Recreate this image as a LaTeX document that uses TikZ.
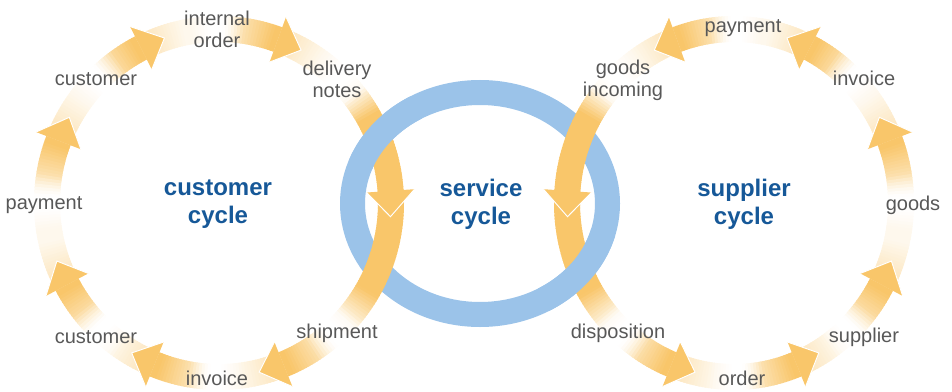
\documentclass[tikz,border=0pt]{standalone}
\usepackage{fontspec}
\setmainfont{Liberation Sans}
\definecolor{yel}{RGB}{249,198,106}
\definecolor{ringblue}{RGB}{155,195,233}
\definecolor{txtgrey}{RGB}{88,88,88}
\definecolor{txtblue}{RGB}{22,88,152}
\pgfmathdeclarefunction{adist}{2}{\pgfmathparse{abs(mod(#1-#2+540,360)-180)}}
\pgfmathdeclarefunction{clampone}{1}{\pgfmathparse{max(0,min(1,#1))}}
% #1 cx, #2 cy, #3 rx, #4 ry, #5 mirror sign
\newcommand\drawband[5]{%
  \foreach \a in {-180,-179,...,179}{%
    \pgfmathsetmacro\m{\a+0.7}%
    \pgfmathsetmacro\d{min(adist(\m,180),adist(\m,135),adist(\m,91),adist(\m,46),adist(\m,-48),adist(\m,-91),adist(\m,-133))}%
    \pgfmathsetmacro\ah{min(mod(\m-159+720,360),mod(\m-117+720,360),mod(\m-70+720,360),mod(\m-4+720,360),mod(\m+68+720,360),mod(\m+112+720,360),mod(\m+152+720,360))}%
    \pgfmathsetmacro\bh{min(mod(159-\m+720,360),mod(117-\m+720,360),mod(70-\m+720,360),mod(4-\m+720,360),mod(-68-\m+720,360),mod(-112-\m+720,360),mod(-152-\m+720,360))}%
    \pgfmathsetmacro\c{min(clampone((\m+44)/14),clampone((40-\m)/10))}%
    \pgfmathsetmacro\p{100*max(clampone(1-(\ah-2)/22),0.5*clampone(1-\bh/20),0.12,\c)*clampone((\d-2)/7)}%
    \pgfmathsetmacro\b{\a+1.4}%
    \fill[yel!\p!white] ({#1+(#5)*(#3-13)*cos(\a)},{#2-(#4-13)*sin(\a)}) -- ({#1+(#5)*(#3+13)*cos(\a)},{#2-(#4+13)*sin(\a)}) -- ({#1+(#5)*(#3+13)*cos(\b)},{#2-(#4+13)*sin(\b)}) -- ({#1+(#5)*(#3-13)*cos(\b)},{#2-(#4-13)*sin(\b)}) -- cycle;
  }%
  \foreach \h in {159,117,70,4,-68,-112,-152}{%
    \pgfmathsetmacro\t{\h-8.5}%
    \filldraw[headstyle] ({#1+(#5)*(#3-24)*cos(\h)},{#2-(#4-24)*sin(\h)}) -- ({#1+(#5)*(#3)*cos(\t)},{#2-(#4)*sin(\t)}) -- ({#1+(#5)*(#3+24)*cos(\h)},{#2-(#4+24)*sin(\h)});
  }%
}
\begin{document}
\begin{tikzpicture}[x=0.75pt,y=-0.75pt,
  headstyle/.style={fill=yel,draw=white,line width=0.7pt,line join=miter},
  ringstyle/.style={draw=ringblue,line width=18.75pt},
  lbl/.style={text=txtgrey,align=center,inner sep=0pt,font=\fontsize{15}{16.5}\selectfont},
  title/.style={text=txtblue,align=center,inner sep=0pt,font=\fontsize{18}{21}\selectfont\bfseries}]
\useasboundingbox (0,0) rectangle (952,392);
% service ring
\draw[ringstyle] (480,203.5) ellipse [x radius=95.625pt, y radius=83.25pt];
% customer cycle (left) and supplier cycle (right)
\drawband{219}{203}{172}{174}{1}
\drawband{734}{203}{167}{174}{-1}
% blue over yellow at two crossings
\draw[ringstyle] plot[domain=120:160, samples=40] ({480+127.5*cos(\x)},{203.5-111*sin(\x)});
\draw[ringstyle] plot[domain=-60:-15, samples=40] ({480+127.5*cos(\x)},{203.5-111*sin(\x)});
% titles
\node[title] (cust) at (218,204) {customer\\cycle};
\node[title] (serv) at (481,204) {service\\cycle};
\node[title] (supp) at (744,204) {supplier\\cycle};
% left labels
\node[lbl] (l1) at (217,29) {internal\\order};
\node[lbl] (l2) at (96,79) {customer};
\node[lbl] (l3) at (337,79) {delivery\\notes};
\node[lbl] (l4) at (44,205) {payment};
\node[lbl] (l5) at (96,337) {customer};
\node[lbl] (l6) at (337,333) {shipment};
\node[lbl] (l7) at (217,378) {invoice};
% right labels
\node[lbl] (r1) at (623,80) {goods\\incoming};
\node[lbl] (r2) at (743,28) {payment};
\node[lbl] (r3) at (864,78) {invoice};
\node[lbl] (r4) at (913,205) {goods};
\node[lbl] (r5) at (864,337) {supplier};
\node[lbl] (r6) at (742,378) {order};
\node[lbl] (r7) at (618,333) {disposition};
\end{tikzpicture}
\end{document}
